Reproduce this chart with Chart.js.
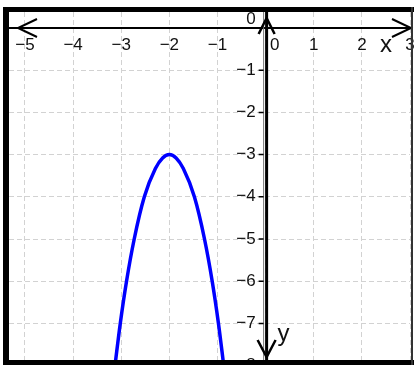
<!DOCTYPE html>
<html>
<head>
<meta charset="utf-8">
<script src="https://cdn.jsdelivr.net/npm/chart.js@4"></script>
<style>
  html, body { margin: 0; padding: 0; background: #fff; }
  canvas { display: block; }
</style>
</head>
<body>
<canvas id="graph" width="414" height="365"></canvas>
<script>
// --- DATA ---
const xTicks = [-5, -4, -3, -2, -1, 0, 1, 2, 3];
const xTickLabels = ['−5', '−4', '−3', '−2', '−1', '0', '1', '2', '3'];
const yTicks = [0, -1, -2, -3, -4, -5, -6, -7, -8];
const yTickLabels = ['0', '−1', '−2', '−3', '−4', '−5', '−6', '−7', '−8'];
const curveX = [-3.13, -3.02, -2.89, -2.73, -2.52, -2.29, -2.14, -2, -1.86, -1.71, -1.48, -1.27, -1.11, -0.98, -0.87];
const curveY = [-8, -7, -6, -5, -4, -3.33, -3.08, -3, -3.08, -3.33, -4, -5, -6, -7, -8];

const FONT = '"Liberation Sans", Arial, sans-serif';

// axes, arrows, labels and the black frame
const axesPlugin = {
    id: 'axesPlugin',
    afterDraw(chart) {
        const { ctx, chartArea: ca, scales: { x, y } } = chart;
        const x0 = x.getPixelForValue(0);
        const y0 = y.getPixelForValue(0);
        ctx.save();

        // x axis line + arrows
        ctx.strokeStyle = '#000';
        ctx.lineWidth = 2;
        ctx.beginPath();
        ctx.moveTo(ca.left, y0); ctx.lineTo(ca.right + 2, y0);
        ctx.stroke();
        ctx.beginPath();
        ctx.moveTo(ca.left + 28, y0 - 9); ctx.lineTo(ca.left + 9, y0); ctx.lineTo(ca.left + 28, y0 + 9);
        ctx.moveTo(ca.right - 18, y0 - 9); ctx.lineTo(ca.right + 1, y0); ctx.lineTo(ca.right - 18, y0 + 9);
        ctx.stroke();

        // y axis: grey + black double line
        ctx.strokeStyle = '#777';
        ctx.lineWidth = 1;
        ctx.beginPath();
        ctx.moveTo(x0 - 2, ca.top); ctx.lineTo(x0 - 2, ca.bottom);
        ctx.stroke();
        ctx.strokeStyle = '#000';
        ctx.lineWidth = 3;
        ctx.beginPath();
        ctx.moveTo(x0 + 1, ca.top); ctx.lineTo(x0 + 1, ca.bottom);
        ctx.stroke();
        ctx.lineWidth = 2.5;
        ctx.beginPath();
        ctx.moveTo(x0 - 7, y0 + 6); ctx.lineTo(x0 + 1, y0 - 10); ctx.lineTo(x0 + 9, y0 + 6);
        ctx.moveTo(x0 - 8, ca.bottom - 20); ctx.lineTo(x0 + 1, ca.bottom - 3); ctx.lineTo(x0 + 10, ca.bottom - 20);
        ctx.stroke();

        // y tick marks
        ctx.lineWidth = 1.5;
        ctx.beginPath();
        yTicks.forEach(v => {
            if (v === 0) return;
            const py = y.getPixelForValue(v);
            ctx.moveTo(x0 - 7, py); ctx.lineTo(x0 - 2, py);
        });
        ctx.stroke();

        // tick labels
        ctx.fillStyle = '#111';
        ctx.font = '17px ' + FONT;
        ctx.textBaseline = 'middle';
        ctx.textAlign = 'center';
        xTicks.forEach((v, i) => {
            const px = x.getPixelForValue(v) + (v === 0 ? 9 : 0);
            ctx.fillText(xTickLabels[i], px, y0 + 17);
        });
        ctx.textAlign = 'right';
        yTicks.forEach((v, i) => {
            const py = v === 0 ? y0 - 9 : y.getPixelForValue(v);
            ctx.fillText(yTickLabels[i], x0 - 10, py);
        });

        // axis names
        ctx.font = '24px ' + FONT;
        ctx.textAlign = 'left';
        ctx.fillText('x', ca.right - 30, y0 + 17);
        ctx.fillText('y', x0 + 12, ca.bottom - 26);

        // frame
        ctx.fillStyle = '#000';
        ctx.fillRect(ca.left - 6, ca.top - 5, ca.right - ca.left + 10, 5);
        ctx.fillRect(ca.left - 6, ca.top - 5, 6, ca.bottom - ca.top + 10);
        ctx.fillRect(ca.left - 6, ca.bottom, ca.right - ca.left + 10, 5);
        ctx.fillStyle = '#333';
        ctx.fillRect(ca.right + 1, ca.top - 5, 2, ca.bottom - ca.top + 10);
        ctx.restore();
    }
};

const gridScale = (min, max, ticks) => ({
    type: 'linear',
    min: min,
    max: max,
    afterBuildTicks: scale => { scale.ticks = ticks.map(v => ({ value: v })); },
    ticks: { display: false },
    grid: { color: '#d2d2d2', lineWidth: 1, drawTicks: false },
    border: { display: false, dash: [5, 3] }
});

new Chart(document.getElementById('graph'), {
    type: 'scatter',
    data: {
        datasets: [{
            data: curveX.map((v, i) => ({ x: v, y: curveY[i] })),
            showLine: true,
            borderColor: '#0000ff',
            borderWidth: 3.5,
            pointRadius: 0,
            cubicInterpolationMode: 'monotone'
        }]
    },
    options: {
        responsive: false,
        animation: false,
        layout: { padding: { left: 9, top: 12, right: 4, bottom: 5 } },
        plugins: { legend: { display: false }, tooltip: { enabled: false } },
        scales: {
            x: gridScale(-5.332, 3, xTicks),
            y: gridScale(-7.867, 0.379, yTicks)
        }
    },
    plugins: [axesPlugin]
});
</script>
</body>
</html>
